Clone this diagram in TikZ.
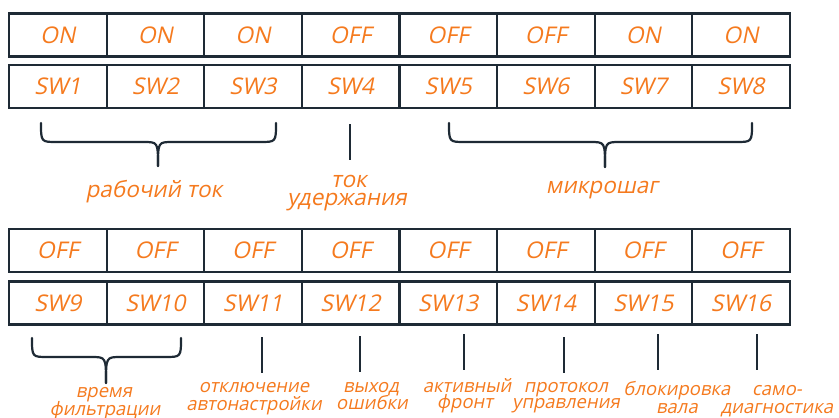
\documentclass[tikz,border=0pt]{standalone}
\usepackage{fontspec}
\setmainfont{Open Sans}
\newfontfamily\slfont{Open Sans}[FakeSlant=0.2]
\definecolor{ora}{HTML}{F57A1E}
\definecolor{ink}{HTML}{1E2A35}
\newcommand\mybrace[6]{%
  \draw[brc] (#1,#4) .. controls (#1,#5) .. ({#1+16},#5) -- ({#3-15},#5) .. controls (#3,#5) .. (#3,#6);
  \draw[brc] (#2,#4) .. controls (#2,#5) .. ({#2-16},#5) -- ({#3+15},#5) .. controls (#3,#5) .. (#3,#6);}
\begin{document}
\begin{tikzpicture}[x=1pt,y=-1pt,
  cell/.style={draw=ink, line width=2.2pt, minimum width=97.6pt, minimum height=43pt,
    inner sep=0pt, text=ora, font=\fontsize{23}{26}\selectfont\slfont},
  biglbl/.style={text=ora, inner sep=0pt, anchor=base, font=\fontsize{22.5}{24}\selectfont\slfont},
  lbl/.style={text=ora, inner sep=0pt, anchor=base, font=\fontsize{18.5}{20}\selectfont\slfont},
  tick/.style={draw=ink, line width=2.4pt},
  brc/.style={draw=ink, line width=2.2pt, line cap=round}]
\fill[white] (0,0) rectangle (839,418);
\useasboundingbox (0,0) rectangle (839,418);
% top rows
\foreach \st [count=\i] in {ON,ON,ON,OFF,OFF,OFF,ON,ON}
  \node[cell] (s\i) at ({9+97.6*(\i-0.5)},35) {\st};
\foreach \i in {1,...,8}
  \node[cell] (w\i) at ({9+97.6*(\i-0.5)},86.5) {SW\i};
% bottom rows
\foreach \st [count=\i] in {OFF,OFF,OFF,OFF,OFF,OFF,OFF,OFF}{
  \pgfmathtruncatemacro\j{\i+8}
  \node[cell] (s\j) at ({9+97.6*(\i-0.5)},250.5) {\st};}
\foreach \i in {1,...,8}{
  \pgfmathtruncatemacro\j{\i+8}
  \node[cell] (w\j) at ({9+97.6*(\i-0.5)},303) {SW\j};}
% braces
\mybrace{41}{276}{158}{123}{142}{166}
\mybrace{449}{752}{605}{123}{142}{167}
\mybrace{32}{181}{106}{338}{357}{383}
% ticks
\coordinate (t4a) at (350,124);   \coordinate (t4b) at (350,160);
\coordinate (t11a) at (262,337);  \coordinate (t11b) at (262,373);
\coordinate (t12a) at (360,336);  \coordinate (t12b) at (360,372);
\coordinate (t13a) at (464,334);  \coordinate (t13b) at (464,370);
\coordinate (t14a) at (564,337);  \coordinate (t14b) at (564,373);
\coordinate (t15a) at (658,334);  \coordinate (t15b) at (658,370);
\coordinate (t16a) at (757,334);  \coordinate (t16b) at (757,370);
\foreach \k in {4,11,12,13,14,15,16} \draw[tick] (t\k a) -- (t\k b);
% labels
\node[biglbl] (L1) at (154,197) {рабочий ток};
\node[biglbl] (L4a) at (349,187) {ток};
\node[biglbl] (L4b) at (347,205) {удержания};
\node[biglbl] (L5) at (602,193) {микрошаг};
\node[lbl] (L9a) at (104,397) {время};
\node[lbl] (L9b) at (105,415) {фильтрации};
\node[lbl] (L11a) at (254,392) {отключение};
\node[lbl] (L11b) at (254,410) {автонастройки};
\node[lbl] (L12a) at (371,392) {выход};
\node[lbl] (L12b) at (372,409) {ошибки};
\node[lbl] (L13a) at (467,392) {активный};
\node[lbl] (L13b) at (465,408) {фронт};
\node[lbl] (L14a) at (566,392) {протокол};
\node[lbl] (L14b) at (566,408) {управления};
\node[lbl] (L15a) at (677,395) {блокировка};
\node[lbl] (L15b) at (677,413) {вала};
\node[lbl] (L16a) at (777,395) {само-};
\node[lbl] (L16b) at (777,413) {диагностика};
\end{tikzpicture}
\end{document}
